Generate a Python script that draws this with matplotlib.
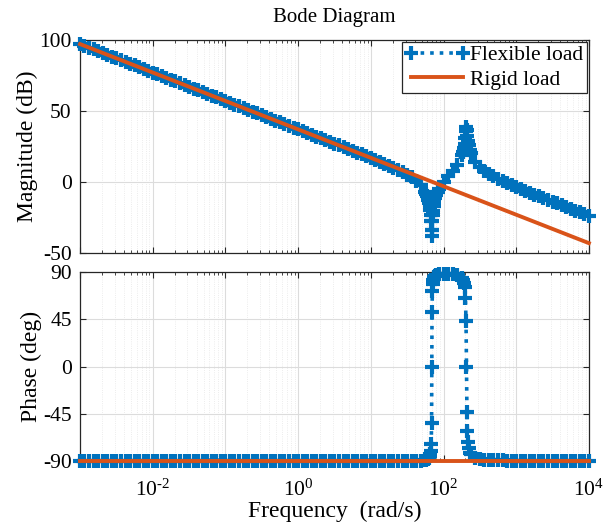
import matplotlib
matplotlib.use('Agg')
import matplotlib.pyplot as plt
from matplotlib.ticker import LogLocator, NullFormatter, FixedLocator

plt.rcParams['font.family'] = ['Liberation Serif', 'DejaVu Serif']
plt.rcParams['mathtext.fontset'] = 'custom'
plt.rcParams['mathtext.rm'] = 'Liberation Serif'
plt.rcParams['axes.unicode_minus'] = False

# frequency points of the flexible-load response (rad/s)
freq = [
    0.001, 0.00115, 0.00133, 0.00154, 0.00178, 0.00205, 0.00237, 0.00274,
    0.00316, 0.00365, 0.00422, 0.00487, 0.00562, 0.00649, 0.0075, 0.00866,
    0.01, 0.0115, 0.0133, 0.0154, 0.0178, 0.0205, 0.0237, 0.0274,
    0.0316, 0.0365, 0.0422, 0.0487, 0.0562, 0.0649, 0.075, 0.0866,
    0.1, 0.115, 0.133, 0.154, 0.178, 0.205, 0.237, 0.274,
    0.316, 0.365, 0.422, 0.487, 0.562, 0.649, 0.75, 0.866,
    1.0, 1.15, 1.33, 1.54, 1.78, 2.05, 2.37, 2.74,
    3.16, 3.65, 4.22, 4.87, 5.62, 6.49, 7.5, 8.66,
    10, 11.5, 13.3, 15.4, 17.8, 20.5, 23.7, 27.4, 31.6, 36.5, 42.2,
    48.7, 56.2, 58, 60, 62, 63.5, 65, 66, 67, 67.8, 68.5,
    69, 69.5, 70.2, 71, 72, 73.5, 75, 77, 80, 83, 86.6,
    100, 115, 133, 154, 178, 185, 190, 195, 200, 204, 207,
    210, 213, 217, 222, 230, 237, 274, 316, 365, 422, 487,
    562, 649, 750, 866,
    1000, 1150, 1330, 1540, 1780, 2050, 2370, 2740,
    3160, 3650, 4220, 4870, 5620, 6490, 7500, 8660, 10000,
]

flex_mag = [
    97.0, 95.75, 94.5, 93.25, 92.0, 90.75, 89.5, 88.25,
    87.0, 85.75, 84.5, 83.25, 82.0, 80.75, 79.5, 78.25,
    77.0, 75.75, 74.5, 73.25, 72.0, 70.75, 69.5, 68.25,
    67.0, 65.75, 64.5, 63.25, 62.0, 60.75, 59.5, 58.25,
    57.0, 55.75, 54.5, 53.25, 52.0, 50.75, 49.5, 48.25,
    47.0, 45.75, 44.5, 43.25, 42.0, 40.75, 39.5, 38.25,
    37.0, 35.75, 34.5, 33.25, 32.0, 30.75, 29.5, 28.25,
    27.0, 25.75, 24.5, 23.25, 22.0, 20.75, 19.5, 18.25,
    16.8, 15.55, 14.23, 12.86, 11.45, 10.05, 8.53, 6.91, 5.17, 3.17, 0.79,
    -2.26, -6.79, -8.21, -10.05, -12.32, -14.5, -17.26, -19.8, -23.3, -27.5, -33.6,
    -38.0, -33.6, -27.6, -23.5, -20.1, -16.6, -14.1, -11.6, -8.9, -6.9, -4.9,
    0.1, 4.0, 7.8, 12.3, 18.7, 21.4, 23.8, 26.8, 31.1, 36.1, 38.9,
    36.3, 32.5, 28.9, 25.8, 22.5, 20.3, 14.1, 10.5, 7.9, 5.7, 3.9,
    2.2, 0.7, -0.8, -2.2,
    -3.6, -4.9, -6.2, -7.5, -8.8, -10.1, -11.4, -12.6,
    -13.9, -15.1, -16.4, -17.7, -18.9, -20.2, -21.4, -22.7, -23.9,
]

flex_phase = [
    -90, -90, -90, -90, -90, -90, -90, -90, -90, -90, -90, -90, -90, -90, -90, -90,
    -90, -90, -90, -90, -90, -90, -90, -90, -90, -90, -90, -90, -90, -90, -90, -90,
    -90, -90, -90, -90, -90, -90, -90, -90, -90, -90, -90, -90, -90, -90, -90, -90,
    -90, -90, -90, -90, -90, -90, -90, -90, -90, -90, -90, -90, -90, -90, -90, -90,
    -90, -90, -90, -90, -90, -90, -90, -90, -89.9, -89.9, -89.8,
    -89.6, -89.0, -88.7, -88.3, -87.7, -86.8, -85.4, -83.6, -80.0, -73.3, -53.5,
    -0.7, 51.9, 71.6, 78.4, 81.9, 84.3, 85.5, 86.4, 87.1, 87.5, 87.7,
    88.0, 88.0, 87.6, 86.7, 84.0, 82.0, 79.6, 75.3, 65.6, 43.1, -0.2,
    -43.0, -61.7, -72.0, -77.3, -81.8, -83.6, -87.0, -88.1, -88.6, -88.9, -89.1,
    -89.3, -89.4, -89.5, -89.6,
    -89.7, -89.7, -89.8, -89.8, -89.8, -89.9, -89.9, -89.9,
    -89.9, -90, -90, -90, -90, -90, -90, -90, -90,
]

# rigid load: pure integrator, straight line on the log axis
rigid_freq = [0.001, 10000]
rigid_mag = [97.0, -43.0]
rigid_phase = [-90, -90]

blue = '#0072BD'
orange = '#D95319'

fig = plt.figure(figsize=(6.16, 5.24), dpi=100)
ax1 = fig.add_axes([0.130, 0.517, 0.826, 0.407])
ax2 = fig.add_axes([0.130, 0.120, 0.826, 0.361])

flex_style = dict(color=blue, linestyle=':', linewidth=2.6, marker='+',
                  markersize=10, markeredgewidth=3, clip_on=False, zorder=3)
rigid_style = dict(color=orange, linewidth=2.8, clip_on=False, zorder=4)

ax1.plot(freq, flex_mag, label='Flexible load', **flex_style)
ax1.plot(rigid_freq, rigid_mag, label='Rigid load', **rigid_style)
ax2.plot(freq, flex_phase, **flex_style)
ax2.plot(rigid_freq, rigid_phase, **rigid_style)

for ax in (ax1, ax2):
    ax.set_xscale('log')
    ax.set_xlim(1e-3, 1e4)
    ax.xaxis.set_major_locator(FixedLocator([1e-3, 1e-2, 1e-1, 1e0, 1e1, 1e2, 1e3, 1e4]))
    ax.xaxis.set_minor_locator(LogLocator(base=10, subs=range(2, 10), numticks=20))
    ax.xaxis.set_minor_formatter(NullFormatter())
    ax.grid(True, which='major', color='#dcdcdc', linewidth=0.8)
    ax.grid(True, which='minor', color='#e6e6e6', linewidth=0.6, linestyle=':')
    ax.tick_params(which='both', direction='in', top=True, right=True,
                   labelsize=15.5, colors='#262626', labelcolor='black')
    ax.tick_params(which='major', length=4)
    ax.tick_params(which='minor', length=2)
    ax.tick_params(axis='y', pad=6)
    ax.tick_params(axis='x', pad=13)
    for s in ax.spines.values():
        s.set_color('#262626')
        s.set_linewidth(0.9)
    ax.set_axisbelow(True)

ax1.set_ylim(-50, 100)
ax1.set_yticks([-50, 0, 50, 100])
ax1.tick_params(axis='x', labelbottom=False)
ax1.set_ylabel('Magnitude (dB)', fontsize=17, labelpad=1)
ax1.set_title('Bode Diagram', fontsize=15, pad=13)

ax2.set_ylim(-90, 90)
ax2.set_yticks([-90, -45, 0, 45, 90])
ax2.set_xticks([1e-3, 1e-2, 1e-1, 1e0, 1e1, 1e2, 1e3, 1e4])
ax2.set_xticklabels(['', r'$\mathregular{10^{\text{-}2}}$', '', r'$\mathregular{10^{0}}$', '',
                     r'$\mathregular{10^{2}}$', '', r'$\mathregular{10^{4}}$'])
ax2.set_ylabel('Phase (deg)', fontsize=17, labelpad=1)
ax2.set_xlabel('Frequency  (rad/s)', fontsize=17, labelpad=0)

leg = ax1.legend(loc='upper right', fontsize=15.5, frameon=True, fancybox=False,
                 edgecolor='#262626', framealpha=1, borderpad=0.15,
                 handlelength=3.0, handletextpad=0.05, borderaxespad=0.1,
                 labelspacing=0.2, numpoints=2)
leg.get_frame().set_linewidth(0.9)

fig.align_ylabels([ax1, ax2])
fig.savefig('out.png', dpi=100)
